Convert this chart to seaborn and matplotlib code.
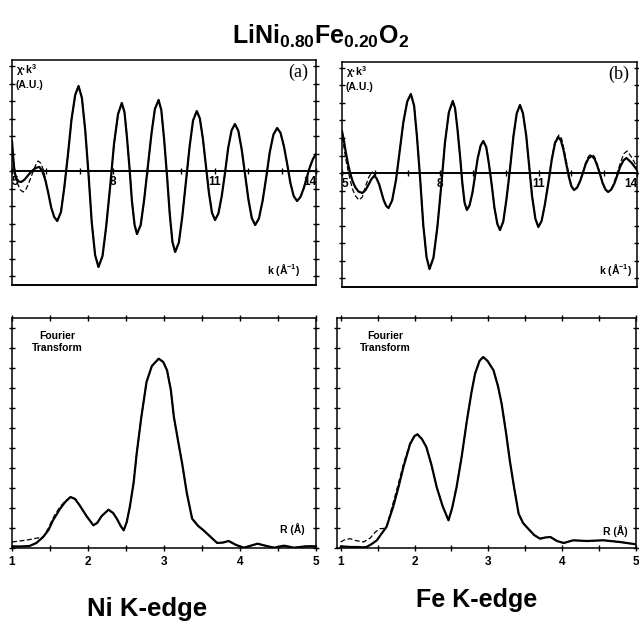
import matplotlib
matplotlib.use("Agg")
import matplotlib.pyplot as plt
from matplotlib.ticker import MultipleLocator
import seaborn as sns

# ---------------------------------------------------------------- data
# (a) Ni K-edge EXAFS, chi*k^3 (arbitrary units) versus k (1/Angstrom)
tl_k = [5.00, 5.04, 5.07, 5.12, 5.20, 5.27, 5.36, 5.46, 5.56, 5.66, 5.74, 5.81,
        5.90, 5.99, 6.08, 6.16, 6.25, 6.34,
        6.45, 6.55, 6.66, 6.76, 6.87, 6.97,
        7.07, 7.17, 7.27, 7.36, 7.46, 7.56,
        7.68, 7.79, 7.91, 8.02, 8.14, 8.25,
        8.33, 8.40, 8.48, 8.55, 8.63, 8.70,
        8.81, 8.91, 9.02, 9.13, 9.23, 9.34,
        9.42, 9.50, 9.59, 9.67, 9.75, 9.83,
        9.94, 10.04, 10.15, 10.26, 10.36, 10.47,
        10.56, 10.65, 10.74, 10.83, 10.92, 11.01,
        11.11, 11.21, 11.31, 11.40, 11.50, 11.60,
        11.70, 11.80, 11.90, 12.00, 12.10, 12.20,
        12.31, 12.42, 12.53, 12.63, 12.74, 12.85,
        12.95, 13.05, 13.15, 13.24, 13.34, 13.44,
        13.54, 13.64, 13.73, 13.82, 13.91, 14.00]
tl_exp = [30, 12, 0, -7, -10.5, -11, -9, -5, -1, 2, 3.5, 4,
          0, -9.5, -23, -36.5, -46, -50,
          -41, -16, 17.5, 51, 76, 85,
          73, 40, -5.5, -51, -84, -96,
          -85, -55, -14, 27, 57, 68,
          59, 35, 2.5, -30, -54, -63,
          -54, -29.5, 4, 37.5, 62, 71,
          61, 33, -5, -43, -71, -81,
          -71.5, -46, -10.5, 25, 50.5, 60,
          52.7, 32.7, 5.5, -21.7, -41.7, -49,
          -42.6, -25, -1, 23, 40.6, 47,
          40.2, 21.7, -3.5, -28.7, -47.2, -54,
          -47.5, -29.7, -5.5, 18.7, 36.5, 43,
          38.1, 24.7, 6.5, -11.7, -25.1, -30,
          -26, -17, -6, 4, 12, 17]
# fit: differs from the data only below k = 6.1
tl_fit_head_k = [5.00, 5.05, 5.10, 5.17, 5.25, 5.33, 5.42, 5.52, 5.62, 5.70, 5.77,
                 5.85, 5.93, 5.99]
tl_fit_head = [18, 8, -2, -13, -19, -21, -18, -10, -1, 6, 10, 8, 1, -8]

# (b) Fe K-edge EXAFS
tr_k = [5.00, 5.06, 5.12, 5.19, 5.25, 5.32, 5.40, 5.50, 5.62, 5.72, 5.82, 5.90, 5.98,
        6.05, 6.13, 6.20, 6.27, 6.35, 6.42,
        6.53, 6.65, 6.76, 6.87, 6.99, 7.10,
        7.20, 7.29, 7.39, 7.48, 7.58, 7.67,
        7.79, 7.91, 8.03, 8.14, 8.26, 8.38,
        8.45, 8.52, 8.60, 8.67, 8.74, 8.81,
        8.89, 8.98, 9.06, 9.14, 9.23, 9.31,
        9.40, 9.48, 9.57, 9.65, 9.74, 9.82,
        9.92, 10.02, 10.13, 10.23, 10.33, 10.43,
        10.52, 10.62, 10.71, 10.80, 10.90, 10.99,
        11.09, 11.19, 11.30, 11.40, 11.50, 11.60,
        11.68, 11.76, 11.84, 11.92, 12.00, 12.08,
        12.17, 12.26, 12.35, 12.43, 12.52, 12.61,
        12.70, 12.78, 12.87, 12.95, 13.04, 13.12,
        13.21, 13.31, 13.40, 13.49, 13.59, 13.68,
        13.84, 14.00]
tr_exp = [42, 32, 20, 8, 0, -8, -14, -18.5, -20, -17, -11, -6, -3,
          -5, -11, -19, -27, -33, -35,
          -27.4, -6.5, 22, 50.5, 71.4, 79,
          67.3, 35.2, -8.5, -52.2, -84.3, -96,
          -84.7, -54, -12, 30, 60.7, 72,
          64.7, 44.7, 17.5, -9.7, -29.7, -37,
          -32.4, -19.7, -2.5, 14.7, 27.4, 32,
          26, 9.7, -12.5, -34.7, -51, -57,
          -48.6, -25.7, 5.5, 36.7, 59.6, 68,
          59.8, 37.5, 7, -23.5, -45.8, -54,
          -48, -31.5, -9, 13.5, 30, 36,
          32.4, 22.7, 9.5, -3.7, -13.4, -17,
          -14.7, -8.5, 0, 8.5, 14.7, 17,
          14.6, 8, -1, -10, -16.6, -19,
          -16.7, -10.5, -2, 6.5, 12.7, 15,
          10, 3]
tr_fit_head_k = [5.00, 5.06, 5.12, 5.19, 5.25, 5.32, 5.41, 5.52, 5.62, 5.72, 5.82,
                 5.92, 5.98]
tr_fit_head = [36, 26, 13, 2, -7, -16, -23, -27, -24, -13, -4, 1, -1]
tr_fit_tail_k = [11.09, 11.19, 11.30, 11.40, 11.50, 11.62,
                 11.70, 11.77, 11.85, 11.93, 12.00, 12.08,
                 12.17, 12.26, 12.35, 12.43, 12.52, 12.61,
                 12.70, 12.78, 12.87, 12.95, 13.04, 13.12,
                 13.22, 13.31, 13.41, 13.51, 13.60, 13.70,
                 13.85, 14.00]
tr_fit_tail = [-47.8, -31, -8, 15, 31.8, 38,
               34.3, 24.2, 10.5, -3.2, -13.3, -17,
               -14.6, -8, 1, 10, 16.6, 19,
               16.5, 9.5, 0, -9.5, -16.5, -19,
               -16.3, -8.7, 1.5, 11.7, 19.3, 22,
               15, 6]

# Fourier transform magnitude versus R (Angstrom), Ni K-edge
bl_r = [1.00, 1.10, 1.23, 1.32, 1.41, 1.48, 1.54, 1.63, 1.70, 1.77, 1.83, 1.89,
        1.98, 2.07, 2.12, 2.18, 2.27, 2.33, 2.38, 2.43, 2.47, 2.51, 2.55, 2.60,
        2.64, 2.70, 2.77, 2.84, 2.93, 2.99, 3.04, 3.09, 3.13, 3.19, 3.24, 3.30,
        3.37, 3.45, 3.52, 3.60, 3.70, 3.78, 3.85, 3.95, 4.05, 4.15, 4.23, 4.35,
        4.45, 4.58, 4.71, 4.87, 5.00]
bl_exp = [1.7, 1.5, 2, 5, 11, 18, 27.7, 39, 46, 51, 49, 42.7,
          32, 22.7, 25, 32, 38.3, 35, 29.3, 22, 17.7, 26, 41, 65,
          94, 130, 166, 182, 189.3, 186, 177.7, 158, 131, 105, 84, 55,
          29.3, 22, 17.7, 12, 5, 5.5, 7, 3, 0.3, 2.5, 4.3, 2,
          0.3, 2.3, 0.3, 1.7, 1.7]
bl_fit_head_r = [1.00, 1.10, 1.20, 1.30, 1.41, 1.48, 1.54, 1.63, 1.70]
bl_fit_head = [6, 7, 8, 9.5, 11, 20, 30, 41, 47]

# Fourier transform magnitude, Fe K-edge
br_r = [1.00, 1.13, 1.22, 1.31, 1.35, 1.42, 1.49, 1.55, 1.62, 1.71, 1.78, 1.85,
        1.94, 2.00, 2.04, 2.10, 2.16, 2.23, 2.30, 2.38, 2.46, 2.51, 2.57, 2.64,
        2.71, 2.77, 2.82, 2.88, 2.93, 2.99, 3.07, 3.13, 3.18, 3.24, 3.29, 3.35,
        3.41, 3.47, 3.54, 3.62, 3.70, 3.77, 3.84, 3.93, 4.02, 4.15, 4.33, 4.56,
        4.78, 5.00]
br_exp = [1.7, 1, 1, 0.7, 1, 4, 7.7, 14, 21, 41, 60, 81,
          104, 112, 113.7, 109, 101, 83, 61, 42, 27.7, 40, 61, 92,
          127.7, 155, 174.3, 187, 191, 187, 177.7, 162, 144.3, 115, 87.7, 60,
          34.3, 25, 19.3, 13, 9.3, 10.5, 11, 7, 5, 7.7, 7, 7.7,
          6, 3.7]
br_fit_head_r = [1.00, 1.06, 1.13, 1.20, 1.31, 1.40, 1.47, 1.53, 1.58, 1.62, 1.71,
                 1.78, 1.85, 1.94]
br_fit_head = [6, 8.5, 9.3, 7.5, 6, 10, 16, 19.3, 19.5, 21, 45, 64, 84, 105]

k_ticks = [5, 8, 11, 14]
r_ticks = [1, 2, 3, 4, 5]

# fitted curves: own values at the start, shared with the data elsewhere
tl_fit_k = tl_fit_head_k + tl_k[14:]
tl_fit = tl_fit_head + tl_exp[14:]
tr_fit_k = tr_fit_head_k + tr_k[13:67] + tr_fit_tail_k
tr_fit = tr_fit_head + tr_exp[13:67] + tr_fit_tail
bl_fit_r = bl_fit_head_r + bl_r[9:]
bl_fit = bl_fit_head + bl_exp[9:]
br_fit_r = br_fit_head_r + br_r[13:]
br_fit = br_fit_head + br_exp[13:]

# ---------------------------------------------------------------- style
sns.set_theme(style="white")
plt.rcParams["font.family"] = ["Liberation Sans", "DejaVu Sans"]
plt.rcParams["mathtext.fontset"] = "custom"
plt.rcParams["mathtext.rm"] = "Liberation Sans"
plt.rcParams["mathtext.bf"] = "Liberation Sans:bold"
plt.rcParams["mathtext.it"] = "Liberation Sans:italic"
plt.rcParams["text.color"] = "black"
plt.rcParams["xtick.color"] = "black"
plt.rcParams["ytick.color"] = "black"
plt.rcParams["xtick.labelcolor"] = "black"

W, H = 639, 621
fig = plt.figure(figsize=(W / 100, H / 100), dpi=100)
fig.patch.set_facecolor("white")


def px_axes(x0, y0, x1, y1):
    """Axes from pixel box (left, top, right, bottom)."""
    return fig.add_axes([x0 / W, 1 - y1 / H, (x1 - x0) / W, (y1 - y0) / H])


def draw_pair(ax, x, y, xf, yf):
    sns.lineplot(x=x, y=y, ax=ax, color="black", lw=1.6,
                 estimator=None, sort=False)
    sns.lineplot(x=xf, y=yf, ax=ax, color="black", lw=0.9,
                 linestyle=(0, (4, 2)), estimator=None, sort=False)


def frame(ax):
    for s in ax.spines.values():
        s.set_color("black")
        s.set_linewidth(1.1)
        s.set_visible(True)
    ax.set_xlabel("")
    ax.set_ylabel("")
    ax.set_facecolor("white")


def exafs_panel(ax, k, y, kf, yf, tag, xr_right, xr_y):
    draw_pair(ax, k, y, kf, yf)
    ax.set_xlim(5, 14)
    ax.set_ylim(-114, 111)
    frame(ax)
    # the k axis runs along chi = 0
    ax.spines["bottom"].set_position(("data", 0))
    ax.spines["bottom"].set_linewidth(1.4)
    ax.plot([0, 1], [0, 0], transform=ax.transAxes, color="black", lw=1.4,
            clip_on=False)
    ax.set_xticks(k_ticks)
    ax.set_xticklabels([str(t) for t in k_ticks])
    ax.xaxis.set_minor_locator(MultipleLocator(1))
    ax.tick_params(axis="x", which="both", direction="inout", bottom=True,
                   top=False, length=5, width=1, color="black", pad=1,
                   labelsize=8.5)
    labels = ax.get_xticklabels()
    for lab in labels:
        lab.set_fontweight("bold")
    labels[0].set_ha("left")
    labels[-1].set_ha("right")
    ax.yaxis.set_major_locator(MultipleLocator(17.5))
    ax.tick_params(axis="y", which="both", direction="inout", left=True,
                   right=True, labelleft=False, length=4, width=1,
                   color="black")
    ax.text(0.012, 0.99, "χ·k$^{\\mathbf{3}}$", transform=ax.transAxes,
            fontsize=7.5, fontweight="bold", va="top", ha="left")
    ax.text(0.012, 0.91, "(A.U.)", transform=ax.transAxes,
            fontsize=7.5, fontweight="bold", va="top", ha="left")
    ax.text(0.975, 0.985, tag, transform=ax.transAxes, fontsize=13,
            family="Liberation Serif", va="top", ha="right")
    ax.text(xr_right, xr_y, "k (Å$^{\\mathbf{-1}}$)", transform=ax.transAxes,
            fontsize=7.5, fontweight="bold", va="center", ha="right")


def ft_panel(ax, r, y, rf, yf, xmin, ft_x, rl_right, rl_y):
    draw_pair(ax, r, y, rf, yf)
    ax.set_xlim(xmin, 5)
    ax.set_ylim(0, 230)
    frame(ax)
    ax.set_xticks(r_ticks)
    ax.set_xticklabels([str(t) for t in r_ticks])
    ax.xaxis.set_minor_locator(MultipleLocator(0.5))
    ax.tick_params(axis="x", which="both", direction="inout", bottom=True,
                   top=True, length=4, width=1, color="black", pad=4,
                   labelsize=8.5)
    for lab in ax.get_xticklabels():
        lab.set_fontweight("bold")
    ax.yaxis.set_major_locator(MultipleLocator(20))
    ax.tick_params(axis="y", which="both", direction="inout", left=True,
                   right=True, labelleft=False, length=4, width=1,
                   color="black")
    ax.text(ft_x, 0.945, "Fourier\nTransform", transform=ax.transAxes,
            fontsize=7.5, fontweight="bold", va="top", ha="center",
            linespacing=1.35)
    ax.text(rl_right, rl_y, "R (Å)", transform=ax.transAxes,
            fontsize=7.5, fontweight="bold", va="center", ha="right")


ax_tl = px_axes(12, 60, 316, 285)
ax_tr = px_axes(342, 62, 637, 287)
ax_bl = px_axes(12, 318, 316, 548)
ax_br = px_axes(337, 318, 636, 548)

exafs_panel(ax_tl, tl_k, tl_exp, tl_fit_k, tl_fit, "(a)", 0.947, 0.067)
exafs_panel(ax_tr, tr_k, tr_exp, tr_fit_k, tr_fit, "(b)", 0.983, 0.076)
ft_panel(ax_bl, bl_r, bl_exp, bl_fit_r, bl_fit, 1.0, 0.15, 0.964, 0.083)
ft_panel(ax_br, br_r, br_exp, br_fit_r, br_fit, 0.95, 0.16, 0.973, 0.074)

fig.text(0.502, 1 - 36 / H,
         r"LiNi$_{\mathbf{0.80}}$Fe$_{\mathbf{0.20}}$O$_{\mathbf{2}}$",
         ha="center", va="center", fontsize=18, fontweight="bold")
fig.text(147 / W, 1 - 609 / H, "Ni K-edge", ha="center", va="center",
         fontsize=18.5, fontweight="bold")
fig.text(477 / W, 1 - 600 / H, "Fe K-edge", ha="center", va="center",
         fontsize=18, fontweight="bold")

fig.savefig("out.png", dpi=100, facecolor="white")
